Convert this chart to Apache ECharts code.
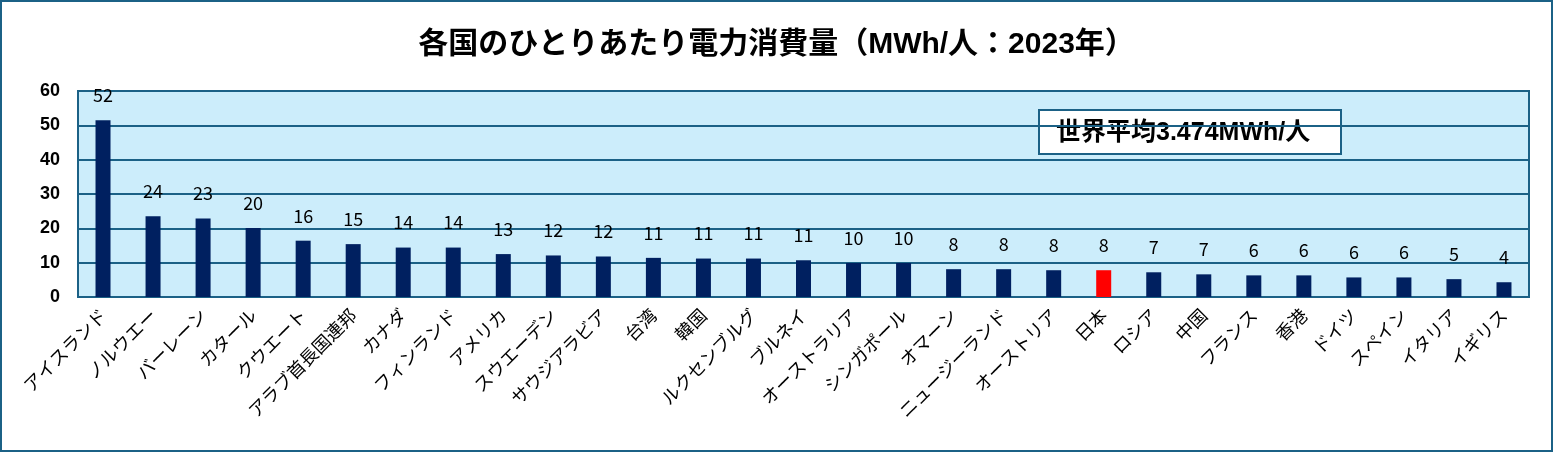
<!DOCTYPE html>
<html>
<head>
<meta charset="utf-8">
<script src="https://cdn.jsdelivr.net/npm/echarts@6/dist/echarts.min.js"></script>
<style>
html,body{margin:0;padding:0;background:#fff;}
#wrap{position:absolute;left:0;top:0;width:1549px;height:448px;border:2px solid #1B6186;}
#chart{width:1549px;height:448px;}
</style>
</head>
<body>
<div id="wrap"><div id="chart"></div></div>
<script>
const titleText = '各国のひとりあたり電力消費量（MWh/人：2023年）';
const noteText = '世界平均3.474MWh/人';
const countries = ['アイスランド','ノルウエー','バーレーン','カタール','クウエート','アラブ首長国連邦','カナダ','フィンランド','アメリカ','スウエーデン','サウジアラビア','台湾','韓国','ルクセンブルグ','ブルネイ','オーストラリア','シンガポール','オマーン','ニュージーランド','オーストリア','日本','ロシア','中国','フランス','香港','ドイツ','スペイン','イタリア','イギリス'];
const values = [51.5,23.5,22.9,20.1,16.4,15.4,14.4,14.4,12.5,12.1,11.8,11.4,11.2,11.2,10.7,9.9,9.9,8.1,8.1,7.8,7.8,7.2,6.6,6.3,6.3,5.7,5.7,5.2,4.3];
const highlight = '日本';
const yTicks = [0,10,20,30,40,50,60];

const NAVY = '#002060', RED = '#FF0000', LINE = '#1B6186';
const MIXED = '"Liberation Sans", "Noto Sans CJK JP", sans-serif';
const JP = '"Noto Sans CJK JP", sans-serif';
const chart = echarts.init(document.getElementById('chart'), null, {renderer:'canvas'});
chart.setOption({
  animation:false,
  backgroundColor:'#fff',
  textStyle:{fontFamily:JP},
  title:{
    text:titleText, left:'center', top:23,
    textStyle:{fontSize:30, fontWeight:'bold', color:'#000', fontFamily:MIXED}
  },
  grid:{left:76, right:22, top:89, bottom:153, show:true, backgroundColor:'#CCEDFB', borderColor:LINE, borderWidth:2},
  xAxis:{
    type:'category', data:countries,
    axisLine:{show:false}, axisTick:{show:false},
    axisLabel:{rotate:45, interval:0, margin:15, fontSize:18, color:'#000', fontFamily:JP}
  },
  yAxis:{
    type:'value', min:yTicks[0], max:yTicks[yTicks.length-1], interval:10,
    axisLine:{show:false}, axisTick:{show:false},
    axisLabel:{margin:18, fontSize:18, fontWeight:'bold', color:'#000', fontFamily:'"Liberation Sans", Arial, sans-serif'},
    splitLine:{lineStyle:{color:LINE, width:2}}
  },
  series:[{
    type:'bar', barWidth:15,
    data:values.map((v,i)=>({value:v, itemStyle:{color: countries[i]===highlight ? RED : NAVY}})),
    label:{show:true, position:'top', distance:16, fontSize:18, color:'#000',
      fontFamily:JP,
      formatter:p=>Math.round(p.value)}
  }],
  graphic:[{
    type:'group', left:1036, top:107, z:100,
    children:[
      {type:'rect', shape:{x:0,y:0,width:302,height:44}, style:{fill:'#fff', stroke:LINE, lineWidth:2}},
      {type:'text', x:17, y:23, style:{text:noteText, fontSize:25, fontWeight:'bold', fill:'#000', verticalAlign:'middle', fontFamily:MIXED}}
    ]
  }]
});
</script>
</body>
</html>
